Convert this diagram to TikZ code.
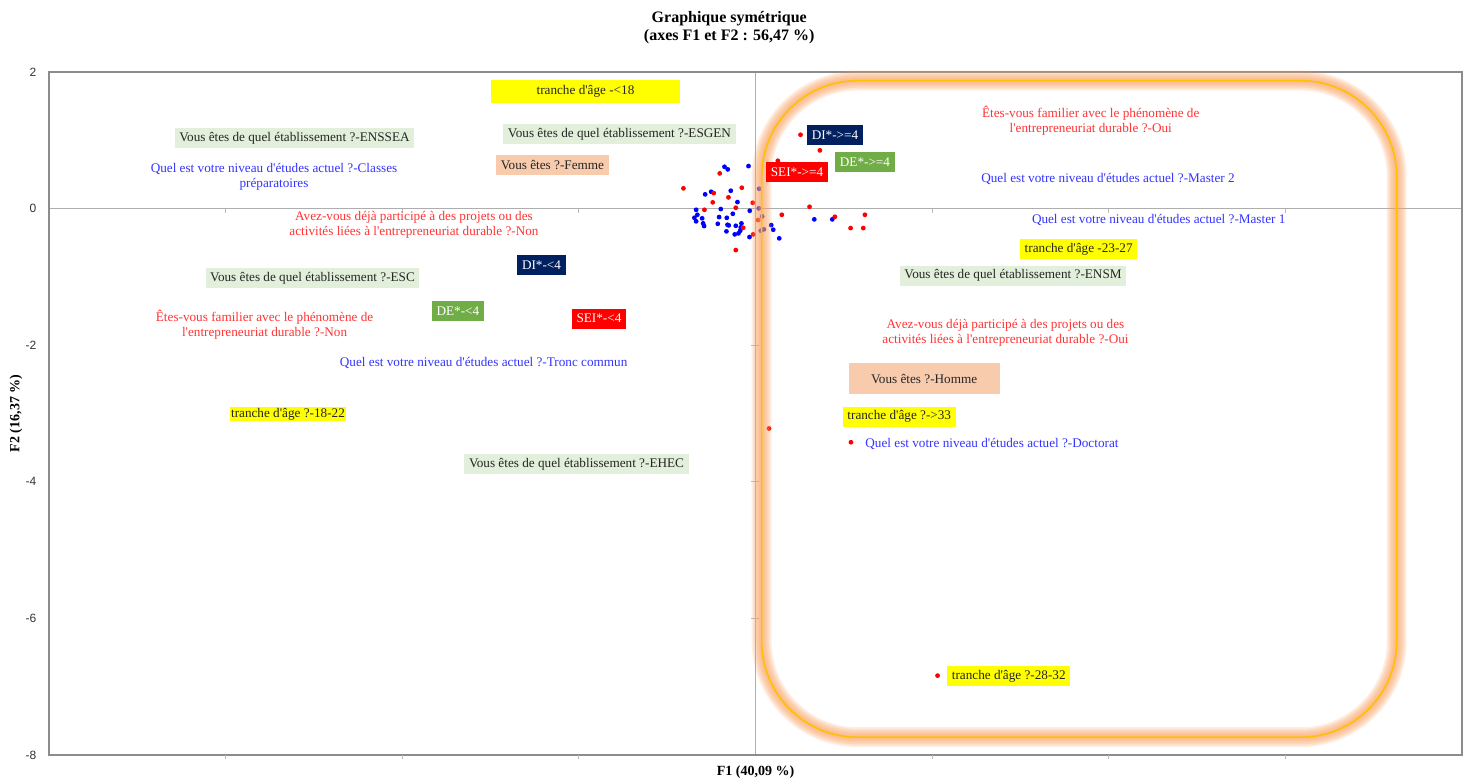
\documentclass[tikz,border=0pt]{standalone}
\usepackage{fontspec}
\setmainfont{Liberation Serif}[Ligatures=TeXOff]
\newfontfamily\ticksfont{Liberation Sans}
\usetikzlibrary{positioning}

\definecolor{agecol}{HTML}{FFFF00}
\definecolor{etabcol}{HTML}{E2EFDA}
\definecolor{sexcol}{HTML}{F8CBAD}
\definecolor{dicol}{HTML}{002060}
\definecolor{decol}{HTML}{70AD47}
\definecolor{seicol}{HTML}{FF0000}
\definecolor{niveaucol}{HTML}{3333FF}
\definecolor{questcol}{HTML}{FF3333}
\definecolor{glowcol}{HTML}{F8A060}
\definecolor{framecol}{HTML}{8C8C8C}
\definecolor{linecol}{HTML}{FFC000}

\begin{document}
\begin{tikzpicture}[x=44.16pt,y=34.15pt,
    font=\fontsize{6.6}{7.5}\selectfont,
    lab/.style={inner xsep=2.3pt,inner ysep=0pt,minimum height=10pt},
    agebox/.style={lab,fill=agecol,text=black!85},
    etabbox/.style={lab,fill=etabcol,text=black!85},
    sexbox/.style={lab,fill=sexcol,text=black!85},
    dibox/.style={lab,fill=dicol,text=white},
    debox/.style={lab,fill=decol,text=white},
    seibox/.style={lab,fill=seicol,text=white},
    niveau/.style={text=niveaucol,align=center,inner sep=0pt},
    question/.style={text=questcol,align=center,inner sep=0pt},
    tick/.style={framecol!60,line width=0.5pt},
    dot/.style={radius=1.2pt}]

    \useasboundingbox (-8.555,-8.337) rectangle (8.023,3.054);

    % Title
    \node[font=\bfseries\fontsize{8}{9.2}\selectfont,align=center] (title) at (-0.297,2.652) {Graphique symétrique\\(axes F1 et F2 : 56,47 \%)};

    % Axes and frame
    \draw[framecol!70,line width=0.6pt] (-8,0) -- (8,0);
    \draw[framecol!70,line width=0.6pt] (0,2) -- (0,-8);
    \draw[framecol,line width=0.8pt] (-8,-8) rectangle (8,2);
    \foreach \x in {-6,-4,-2,2,4,6} {
        \draw[tick] (\x,0) -- ++(0,-2pt);
        \draw[tick] (\x,-8) -- ++(0,-2pt);
    }
    \foreach \y in {-2,-4,-6}
        \draw[tick] ([xshift=-2pt]0,\y) -- ([xshift=2pt]0,\y);
    \foreach \y [count=\i] in {2,0,-2,-4,-6,-8}
        \node[anchor=east,inner sep=0pt,text=black!80,font=\ticksfont\fontsize{6}{7}\selectfont] (ytick\i) at (-8.14,\y) {\y};
    \node[font=\bfseries\fontsize{7}{8}\selectfont] (xlab) at (0,-8.249) {F1 (40,09 \%)};
    \node[rotate=90,font=\bfseries\fontsize{7}{8}\selectfont] (ylab) at (-8.374,-3) {F2 (16,37 \%)};

    % Observations
    \foreach \px/\py in {-0.351/0.612,-0.314/0.574,-0.079/0.622,-0.570/0.208,-0.502/0.246,
        -0.280/0.261,-0.204/0.095,-0.672/-0.018,-0.393/-0.007,-0.065/-0.032,-0.658/-0.091,
        -0.257/-0.076,-0.692/-0.135,-0.604/-0.143,-0.412/-0.124,-0.325/-0.135,-0.672/-0.187,
        -0.593/-0.217,-0.582/-0.256,-0.427/-0.223,-0.317/-0.237,-0.303/-0.246,-0.223/-0.252,
        -0.159/-0.217,-0.167/-0.275,-0.329/-0.334,-0.235/-0.378,-0.193/-0.363,-0.173/-0.325,
        -0.068/-0.417,0.178/-0.242,0.201/-0.310,0.269/-0.436,0.666/-0.158,0.870/-0.158,
        0.042/0.290,0.037/0.003,0.076/-0.114,0.094/-0.305,0.060/-0.325}
        \fill[blue] (\px,\py) circle[dot];

    % Categories
    \foreach \px/\py in {-0.405/0.515,0.253/0.700,0.729/0.852,0.510/1.081,-0.816/0.296,
        -0.473/0.227,-0.155/0.305,-0.484/0.091,-0.306/0.164,-0.031/0.085,-0.578/-0.018,
        -0.223/0.012,0.031/-0.168,0.298/-0.091,0.612/0.026,-0.139/-0.281,-0.026/-0.378,
        -0.223/-0.608,0.899/-0.120,1.077/-0.286,1.221/-0.286,1.239/-0.091,
        0.153/-3.220,1.081/-3.422,2.062/-6.839}
        \fill[red] (\px,\py) circle[dot];

    % Highlighted group
    \foreach \w in {10,8.5,7,5.5,4,2.5}
        \draw[glowcol,opacity=0.17,line width=\w pt,rounded corners=48pt] (0.070,-7.741) rectangle (7.261,1.873);
    \draw[linecol,line width=0.8pt,rounded corners=48pt] (0.070,-7.741) rectangle (7.261,1.873);

    % Labels, left side
    \node[agebox,minimum width=95pt,minimum height=11.5pt] (age18) at (-1.925,1.714) {tranche d'âge -<18};
    \node[etabbox] (enssea) at (-5.220,1.026) {Vous êtes de quel établissement ?-ENSSEA};
    \node[niveau] (classes) at (-5.452,0.463) {Quel est votre niveau d'études actuel ?-Classes\\préparatoires};
    \node[etabbox] (esgen) at (-1.540,1.085) {Vous êtes de quel établissement ?-ESGEN};
    \node[sexbox] (femme) at (-2.299,0.638) {Vous êtes ?-Femme};
    \node[question] (projnon) at (-3.867,-0.233) {Avez-vous déjà participé à des projets ou des\\activités liées à l'entrepreneuriat durable ?-Non};
    \node[dibox] (dimoins) at (-2.423,-0.826) {DI*-<4};
    \node[etabbox] (esc) at (-5.016,-1.023) {Vous êtes de quel établissement ?-ESC};
    \node[debox] (demoins) at (-3.369,-1.499) {DE*-<4};
    \node[seibox] (seimoins) at (-1.772,-1.612) {SEI*-<4};
    \node[question] (famnon) at (-5.559,-1.704) {Êtes-vous familier avec le phénomène de\\l'entrepreneuriat durable ?-Non};
    \node[niveau] (tronc) at (-3.078,-2.265) {Quel est votre niveau d'études actuel ?-Tronc commun};
    \node[agebox,inner xsep=0.5pt,minimum height=7pt] (age1822) at (-5.294,-3.007) {tranche d'âge ?-18-22};
    \node[etabbox] (ehec) at (-2.027,-3.739) {Vous êtes de quel établissement ?-EHEC};

    % Labels, right side
    \node[dibox] (diplus) at (0.900,1.078) {DI*->=4};
    \node[debox] (deplus) at (1.240,0.682) {DE*->=4};
    \node[seibox] (seiplus) at (0.470,0.531) {SEI*->=4};
    \node[question] (famoui) at (3.796,1.283) {Êtes-vous familier avec le phénomène de\\l'entrepreneuriat durable ?-Oui};
    \node[niveau] (master2) at (3.992,0.433) {Quel est votre niveau d'études actuel ?-Master 2};
    \node[niveau] (master1) at (4.566,-0.171) {Quel est votre niveau d'études actuel ?-Master 1};
    \node[agebox] (age2327) at (3.660,-0.592) {tranche d'âge -23-27};
    \node[etabbox] (ensm) at (2.916,-0.984) {Vous êtes de quel établissement ?-ENSM};
    \node[question] (projoui) at (2.831,-1.814) {Avez-vous déjà participé à des projets ou des\\activités liées à l'entrepreneuriat durable ?-Oui};
    \node[sexbox,minimum width=75.5pt,minimum height=15.5pt] (homme) at (1.910,-2.490) {Vous êtes ?-Homme};
    \node[agebox] (age33) at (1.628,-3.048) {tranche d'âge ?->33};
    \node[niveau] (doctorat) at (2.678,-3.442) {Quel est votre niveau d'études actuel ?-Doctorat};
    \node[agebox] (age2832) at (2.868,-6.843) {tranche d'âge ?-28-32};
\end{tikzpicture}
\end{document}
